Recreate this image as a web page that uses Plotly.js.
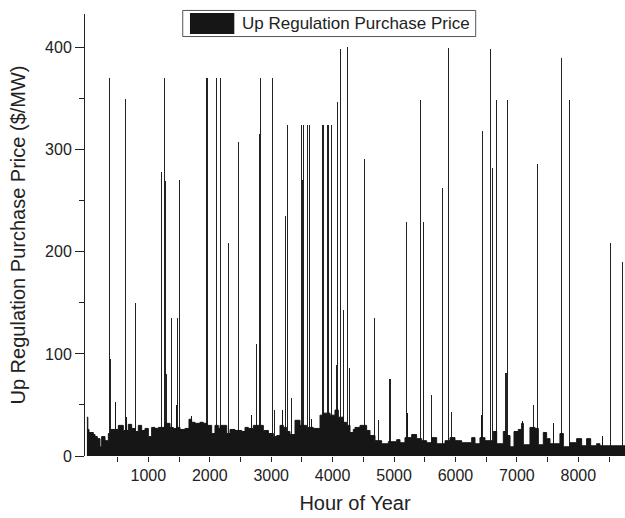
<!DOCTYPE html>
<html>
<head>
<meta charset="utf-8">
<script src="https://cdn.plot.ly/plotly-3.0.1.min.js"></script>
<style>html,body{margin:0;padding:0;background:#fff;}#chart{width:625px;height:518px;}</style>
</head>
<body>
<div id="chart"></div>
<script>
// Baseline price level (hour where a segment starts, typical price in $/MW)
const baseStart = [0, 15, 34, 105, 132, 170, 213, 240, 295, 349, 392, 512, 593, 674, 729, 783, 837, 891, 946, 1000, 1054, 1108, 1163, 1271, 1353, 1407, 1461, 1515, 1597, 1662, 1705, 1760, 1841, 1895, 1950, 2031, 2085, 2139, 2167, 2276, 2330, 2411, 2520, 2574, 2628, 2710, 2872, 2954, 3035, 3090, 3144, 3198, 3252, 3306, 3388, 3469, 3578, 3686, 3795, 3849, 3958, 4039, 4093, 4174, 4228, 4283, 4337, 4364, 4446, 4554, 4609, 4690, 4798, 4907, 5043, 5097, 5178, 5287, 5368, 5450, 5531, 5612, 5694, 5830, 5911, 5992, 6101, 6264, 6318, 6399, 6480, 6562, 6616, 6671, 6779, 6822, 6888, 6953, 7023, 7077, 7105, 7213, 7295, 7349, 7430, 7484, 7539, 7701, 7756, 7864, 7973, 8054, 8135, 8201, 8298, 8352];
const baseLevel = [38, 26, 23, 21, 19, 17, 9, 19, 15, 22, 26, 30, 25, 31, 27, 24, 30, 25, 27, 19, 28, 27, 28, 32, 28, 27, 28, 26, 27, 36, 33, 32, 33, 32, 30, 22, 30, 27, 30, 22, 26, 25, 24, 28, 27, 30, 25, 22, 19, 20, 30, 28, 24, 21, 35, 30, 28, 27, 40, 42, 40, 45, 38, 33, 30, 23, 26, 28, 30, 25, 20, 15, 12, 14, 16, 13, 18, 21, 17, 15, 13, 18, 12, 15, 18, 15, 13, 18, 12, 18, 15, 15, 24, 12, 24, 20, 9, 24, 26, 32, 11, 28, 27, 11, 23, 17, 12, 22, 9, 13, 17, 10, 17, 10, 12, 10];
const lastHour = 8760;

// Smaller price peaks inside the dense band
const peakHour  = [470, 490, 640, 1370, 1462, 1678, 1706, 2683, 3176, 3190, 3659, 4446, 4685, 5222, 6427, 6660, 7050, 7088, 7592, 8027, 8162, 8397];
const peakPrice = [53, 53, 38, 50, 50, 39, 39, 40, 45, 45, 36, 45, 99, 42, 40, 28, 24, 34, 32, 17, 17, 20];

// Price spikes
const spikeHour  = [132, 360, 372, 380, 631, 794, 864, 1011, 1060, 1157, 1206, 1215, 1262, 1266, 1275, 1299, 1380, 1472, 1510, 1950, 1958, 2004, 2113, 2178, 2185, 2302, 2411, 2471, 2478, 2764, 2807, 2823, 2835, 2850, 2997, 3025, 3051, 3160, 3208, 3230, 3268, 3327, 3404, 3497, 3508, 3524, 3551, 3589, 3600, 3621, 3830, 3843, 3846, 3855, 3911, 3938, 3976, 4060, 4076, 4082, 4131, 4137, 4180, 4239, 4246, 4271, 4516, 4543, 4679, 4750, 4928, 4942, 5206, 5292, 5434, 5440, 5476, 5613, 5667, 5792, 5890, 5938, 6443, 6565, 6572, 6600, 6671, 6815, 6822, 6830, 6850, 6953, 7197, 7267, 7337, 7343, 7571, 7723, 7853, 8450, 8520, 8722];
const spikePrice = [350, 370, 370, 95, 350, 150, 370, 370, 55, 55, 288, 278, 329, 370, 269, 80, 135, 135, 270, 370, 370, 50, 370, 370, 334, 209, 218, 308, 292, 110, 315, 370, 194, 100, 231, 370, 45, 401, 329, 235, 324, 57, 58, 324, 270, 324, 274, 324, 324, 324, 324, 387, 324, 290, 324, 324, 324, 89, 347, 248, 399, 350, 143, 401, 275, 86, 291, 75, 135, 35, 75, 75, 229, 229, 349, 328, 229, 60, 60, 263, 400, 43, 318, 399, 350, 282, 349, 81, 282, 81, 349, 349, 349, 50, 286, 349, 205, 390, 349, 29, 209, 190];

const xTicks = [1000, 2000, 3000, 4000, 5000, 6000, 7000, 8000];
const xMinorTicks = [500, 1500, 2500, 3500, 4500, 5500, 6500, 7500, 8500];
const seriesName = 'Up Regulation Purchase Price';

const barColor = '#161616';
const spikeWidth = 12;

const traces = [
  { type: 'scatter', mode: 'lines', x: baseStart.concat([lastHour]),
    y: baseLevel.concat([baseLevel[baseLevel.length - 1]]), name: seriesName, showlegend: false,
    line: { shape: 'hv', width: 1, color: barColor }, fill: 'tozeroy', fillcolor: barColor, hoverinfo: 'skip' },
  { type: 'bar', x: peakHour, y: peakPrice, width: spikeWidth, showlegend: false,
    marker: { color: barColor, line: { width: 0 } }, hoverinfo: 'skip' },
  { type: 'bar', x: spikeHour, y: spikePrice, width: spikeWidth, showlegend: false,
    marker: { color: '#222', line: { width: 0 } }, hoverinfo: 'skip' }
];

const FONT = 'Liberation Sans, Arial, Helvetica, sans-serif';
const layout = {
  width: 625, height: 518,
  margin: { l: 85, r: 0, t: 14.3, b: 62.3 },
  paper_bgcolor: '#fff', plot_bgcolor: '#fff',
  barmode: 'overlay', bargap: 0, bargroupgap: 0,
  showlegend: false,
  font: { family: FONT, color: '#222', size: 16 },
  xaxis: {
    range: [-31, 8760], showgrid: false, zeroline: false, showline: false,
    tickmode: 'array', tickvals: xTicks, ticks: 'outside', ticklen: 5, tickcolor: '#222', tickwidth: 1,
    minor: { tickmode: 'array', tickvals: xMinorTicks, ticks: 'outside', ticklen: 5, tickcolor: '#222', showgrid: false },
    tickfont: { size: 16, family: FONT, color: '#222' },
    title: { text: 'Hour of Year', font: { size: 20, family: FONT, color: '#222' }, standoff: 12 }
  },
  yaxis: {
    range: [0, 433], showgrid: false, zeroline: false, showline: true, linecolor: '#222', linewidth: 1,
    dtick: 100, tick0: 0, ticks: 'outside', ticklen: 9, tickcolor: '#222', tickwidth: 1,
    minor: { dtick: 50, tick0: 0, ticks: 'outside', ticklen: 5, tickcolor: '#222', showgrid: false },
    tickfont: { size: 16, family: FONT, color: '#222' },
    title: { text: 'Up Regulation Purchase Price ($/MW)', font: { size: 20, family: FONT, color: '#222' }, standoff: 14 }
  },
  shapes: [
    { type: 'rect', xref: 'paper', yref: 'paper', x0: 0.181, x1: 0.7235, y0: 0.949, y1: 1.008,
      line: { color: '#555', width: 1 }, fillcolor: '#fff', layer: 'above' },
    { type: 'rect', xref: 'paper', yref: 'paper', x0: 0.1944, x1: 0.2765, y0: 0.955, y1: 1.002,
      line: { width: 0 }, fillcolor: barColor, layer: 'above' }
  ],
  annotations: [
    { xref: 'paper', yref: 'paper', x: 0.287, y: 0.978, xanchor: 'left', yanchor: 'middle',
      text: seriesName, showarrow: false, font: { size: 17, family: FONT, color: '#222' } }
  ]
};

Plotly.newPlot('chart', traces, layout, { staticPlot: true, displayModeBar: false });
</script>
</body>
</html>
